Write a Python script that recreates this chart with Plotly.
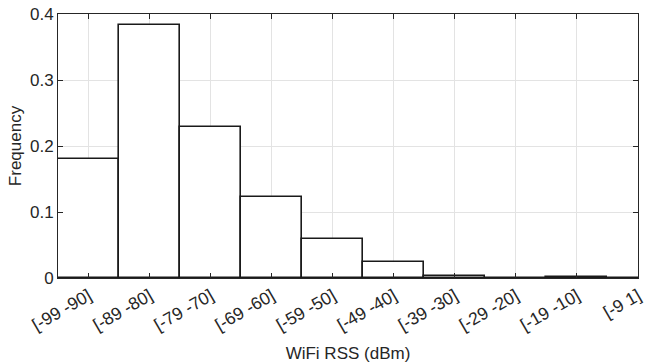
import plotly.graph_objects as go

categories = ["[-99 -90]", "[-89 -80]", "[-79 -70]", "[-69 -60]", "[-59 -50]",
              "[-49 -40]", "[-39 -30]", "[-29 -20]", "[-19 -10]", "[-9 1]"]
frequency = [0.180, 0.384, 0.229, 0.123, 0.059, 0.025, 0.0035, 0.0005, 0.0015, 0.0005]
y_ticks = [0, 0.1, 0.2, 0.3, 0.4]
y_tick_labels = ["0", "0.1", "0.2", "0.3", "0.4"]

axis_color = "#262626"
grid_color = "#e3e3e3"
font_family = "Liberation Sans, Arial, sans-serif"

fig = go.Figure(go.Bar(
    x=categories, y=frequency, width=1,
    marker=dict(color="white", line=dict(color="#1a1a1a", width=1.6)),
))

fig.update_layout(
    width=649, height=363,
    margin=dict(l=58, r=11, t=14, b=85),
    paper_bgcolor="white", plot_bgcolor="white",
    showlegend=False, bargap=0,
    font=dict(family=font_family, size=17, color=axis_color),
)
fig.update_xaxes(
    type="category", range=[-0.5, 9], automargin=False,
    tickangle=-30, tickfont=dict(size=17.5),
    showgrid=True, gridcolor=grid_color, gridwidth=1,
    showline=True, linecolor=axis_color, linewidth=1, mirror="ticks",
    ticks="inside", ticklen=5, tickcolor=axis_color,
    title=dict(text="WiFi RSS (dBm)", font=dict(size=17), standoff=30),
)
fig.update_yaxes(
    range=[0, 0.4], tickvals=y_ticks, ticktext=y_tick_labels, automargin=False,
    tickfont=dict(size=17),
    showgrid=True, gridcolor=grid_color, gridwidth=1,
    showline=True, linecolor=axis_color, linewidth=1, mirror="ticks",
    ticks="inside", ticklen=5, tickcolor=axis_color,
    zeroline=False,
    title=dict(text="Frequency", font=dict(size=17), standoff=4),
)

fig.write_html("out.html", config={"displayModeBar": False},
               post_script="document.body.style.margin='0';")
